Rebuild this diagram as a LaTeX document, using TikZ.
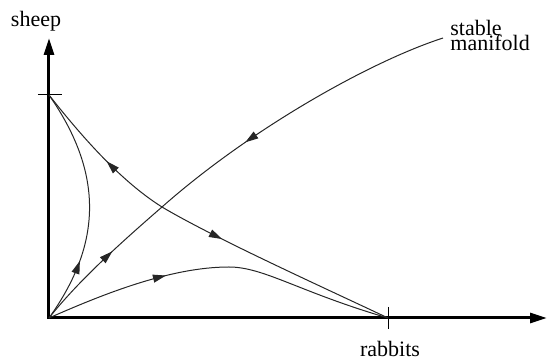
\documentclass[tikz,border=0pt]{standalone}
\usepackage{fontspec}
\setmainfont{Liberation Serif}
\usetikzlibrary{arrows.meta,decorations.markings}
\tikzset{
    every node/.style={font=\fontsize{11pt}{13.2pt}\selectfont},
    axis/.style={line width=1.5pt,{Triangle[length=8.5pt,width=5pt]}-{Triangle[length=8.5pt,width=5pt]}},
    ticmark/.style={line width=0.5pt},
    orbit/.style={draw=black!85,line width=0.5pt},
    flow/.style={postaction={decorate,decoration={markings,
        mark=at position #1 with {\arrow{Triangle[length=6.5pt,width=4pt]}}}}},
    axlabel/.style={inner sep=0pt}
}

\begin{document}
\begin{tikzpicture}[
x=0.5pt,
y=0.5pt
]
\useasboundingbox (-49,-44) rectangle (500,318);
\coordinate (O) at (0,0);
\coordinate (Ty) at (0,223);
\coordinate (Tx) at (339,0);
\coordinate (S) at (113,111);
\coordinate (E) at (394,280);
\coordinate (ytop) at (0,280);
\coordinate (xend) at (498,0);
\draw[axis] (ytop) -- (O) -- (xend);
\draw[ticmark] ([xshift=-5.5pt]Ty) -- ([xshift=6.5pt]Ty);
\draw[ticmark] ([yshift=5.5pt]Tx) -- ([yshift=-5.5pt]Tx);
\draw[orbit,flow=0.45] (S) .. controls (70,138) and (30,185) .. (Ty);
\draw[orbit,flow=0.27] (S) .. controls (165,80) and (280,28) .. (Tx);
\draw[orbit,flow=0.58] (O) .. controls (30,38) and (75,78) .. (S);
\draw[orbit,flow=0.68] (E) .. controls (320,256) and (200,188) .. (S);
\draw[orbit,flow=0.27] (O) .. controls (50,70) and (58,140) .. (Ty);
\draw[orbit,flow=0.35] (O) .. controls (50,22) and (120,51) .. (180,51)
    .. controls (215,51) and (250,26) .. (Tx);
\node[axlabel,anchor=base] (sheep) at (-13,291) {sheep};
\node[axlabel,anchor=base] (rabbits) at (341,-39) {rabbits};
\node[axlabel,anchor=base west,align=left] (manifold) at (401,267) {stable\\[-5.5pt]manifold};
\end{tikzpicture}
\end{document}
